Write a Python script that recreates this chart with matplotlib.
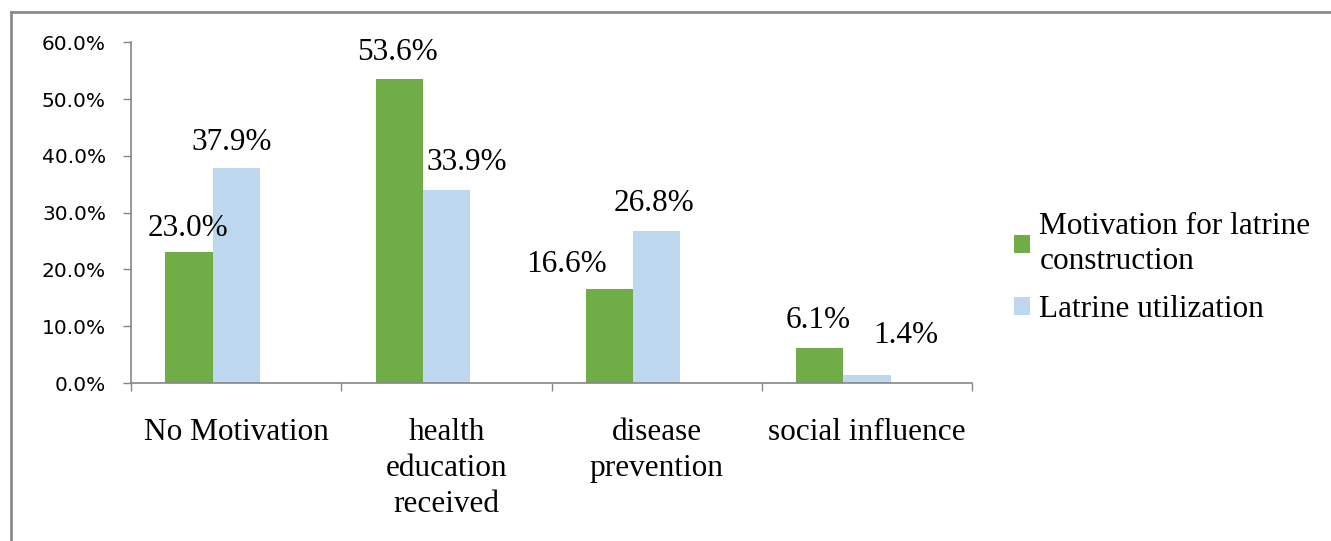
import matplotlib.pyplot as plt
import numpy as np
from matplotlib.lines import Line2D
from matplotlib.patches import Patch
from matplotlib.ticker import FuncFormatter

categories = ["No Motivation", "health\neducation\nreceived", "disease\nprevention", "social influence"]
construction = [23.0, 53.6, 16.6, 6.1]
utilization = [37.9, 33.9, 26.8, 1.4]
series_names = ["Motivation for latrine\nconstruction", "Latrine utilization"]

# label nudges in pixels (dx, dy above bar top)
construction_nudge = [(-1, 16), (-2, 19), (-43, 17), (-2, 20)]
utilization_nudge = [(-4, 18), (20, 20), (-3, 20), (39, 32)]

green = "#70AD47"
blue = "#BDD7EE"
axis_gray = "#868686"
serif = "Liberation Serif"

fig = plt.figure(figsize=(13.31, 5.41), dpi=100)
ax = fig.add_axes([0.0984, 0.292, 0.632, 0.630])

x = np.arange(len(categories))
w = 0.224
b1 = ax.bar(x - w, construction, w, color=green)
b2 = ax.bar(x, utilization, w, color=blue)

for bars, vals, nudge in [(b1, construction, construction_nudge), (b2, utilization, utilization_nudge)]:
    for rect, v, (dx, dy) in zip(bars, vals, nudge):
        ax.annotate(f"{v:.1f}%", (rect.get_x() + rect.get_width() / 2, v),
                    xytext=(dx, dy), textcoords="offset pixels",
                    ha="center", va="baseline", fontsize=22.5, family=serif)

ax.set_xlim(-0.5, len(categories) - 0.5)
ax.set_ylim(0, 60)
ax.set_yticks(np.arange(0, 61, 10))
ax.yaxis.set_major_formatter(FuncFormatter(lambda v, p: f"{v:.1f}%"))
ax.tick_params(axis="y", length=6, width=1, color=axis_gray, labelsize=14.5, pad=12)

# category boundaries carry the tick marks, centers carry the labels
ax.set_xticks(np.arange(-0.5, len(categories), 1.0))
ax.set_xticklabels([])
ax.set_xticks(x, minor=True)
ax.set_xticklabels(categories, minor=True, fontsize=22.5, family=serif, linespacing=1.33)
ax.tick_params(axis="x", which="major", length=6, width=1, color=axis_gray)
ax.tick_params(axis="x", which="minor", length=0, pad=25)

for s in ["top", "right"]:
    ax.spines[s].set_visible(False)
for s in ["left", "bottom"]:
    ax.spines[s].set_color(axis_gray)
    ax.spines[s].set_linewidth(1.2)

handles = [Patch(facecolor=green, label=series_names[0]),
           Patch(facecolor=blue, label=series_names[1])]
leg = fig.legend(handles=handles, loc="center left", bbox_to_anchor=(0.741, 0.505),
                 frameon=False, handlelength=0.5, handleheight=0.5, handletextpad=0.3,
                 labelspacing=0.6, prop={"family": serif, "size": 22.5})
for t in leg.get_texts():
    t.set_linespacing(1.3)

# outer frame (top and left edges)
fig.add_artist(Line2D([0.0083, 1.0], [0.978, 0.978], color="#8c8c8c", lw=2, transform=fig.transFigure))
fig.add_artist(Line2D([0.0083, 0.0083], [0.978, 0.0], color="#8c8c8c", lw=2, transform=fig.transFigure))

fig.savefig("out.png", dpi=100)
